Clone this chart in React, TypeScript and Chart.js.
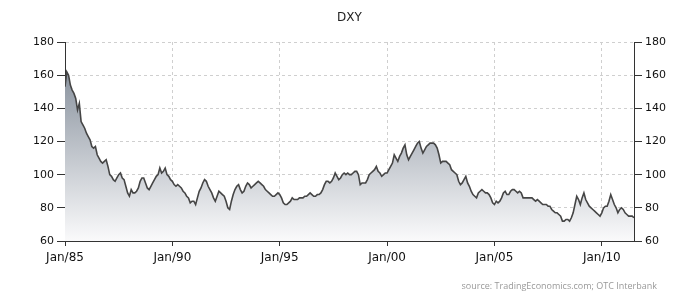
import React, { useEffect, useRef } from "react";
import { Chart, registerables } from "chart.js";

Chart.register(...registerables);

const START_YEAR = 1985;
// Monthly DXY values, Jan 1985 .. Jul 2011
const dxy1985_1989 = [
  153, 162, 160, 154, 151, 149, 146, 139, 143, 132, 130, 128,
  125, 123, 121, 117, 116, 117, 112, 110, 108, 107, 108, 109,
  105, 100, 99, 97, 96, 98, 100, 101, 98, 97, 93, 89,
  87, 91, 89, 89, 90, 92, 96, 98, 98, 95, 92, 91,
  93, 95, 97, 99, 100, 104, 101, 102, 104, 100, 99, 97,
];
const dxy1990_1994 = [
  96, 94, 93, 94, 93, 92, 90, 89, 87, 86, 83, 84,
  84, 82, 86, 90, 92, 95, 97, 96, 93, 91, 89, 86,
  84, 87, 90, 89, 88, 87, 84, 80, 79, 84, 88, 91,
  93, 94, 91, 89, 90, 93, 95, 94, 92, 93, 94, 95,
  96, 95, 94, 93, 91, 90, 89, 88, 87, 87, 88, 89,
];
const dxy1995_1999 = [
  88, 86, 83, 82, 82, 83, 84, 86, 85, 85, 85, 86,
  86, 86, 87, 87, 88, 89, 88, 87, 87, 88, 88, 89,
  91, 94, 96, 96, 95, 96, 98, 101, 99, 97, 98, 100,
  101, 100, 101, 100, 100, 101, 102, 102, 100, 94, 95, 95,
  95, 97, 100, 101, 102, 103, 105, 102, 101, 99, 100, 101,
];
const dxy2000_2004 = [
  101, 103, 105, 107, 112, 110, 108, 111, 113, 116, 118, 112,
  109, 111, 113, 115, 117, 119, 120, 116, 113, 115, 117, 118,
  119, 119, 119, 118, 116, 112, 107, 108, 108, 108, 107, 106,
  103, 102, 101, 100, 96, 94, 95, 97, 99, 95, 93, 90,
  88, 87, 86, 89, 90, 91, 90, 89, 89, 88, 86, 83,
];
const dxy2005_2011 = [
  82, 84, 83, 84, 86, 89, 90, 88, 88, 90, 91, 91,
  90, 89, 90, 89, 86, 86, 86, 86, 86, 86, 85, 84,
  85, 84, 83, 82, 82, 82, 81, 81, 79, 78, 77, 77,
  76, 75, 72, 72, 73, 73, 72, 74, 77, 82, 87, 85,
  82, 86, 89, 85, 83, 81, 80, 79, 78, 77, 76, 75,
  77, 80, 81, 81, 84, 88, 85, 82, 80, 77, 79, 80,
  79, 77, 76, 75, 75, 75, 74,
];
const dxyValues = [
  ...dxy1985_1989,
  ...dxy1990_1994,
  ...dxy1995_1999,
  ...dxy2000_2004,
  ...dxy2005_2011,
];
const xTickYears = [1985, 1990, 1995, 2000, 2005, 2010];
const yTickValues = [60, 80, 100, 120, 140, 160, 180];
const TITLE = "DXY";
const SOURCE = "source: TradingEconomics.com; OTC Interbank";

const FONT = "'DejaVu Sans', sans-serif";

const textPlugin = {
  id: "textPlugin",
  afterDraw(chart: any) {
    const { ctx } = chart;
    const area = chart.chartArea;
    ctx.save();
    ctx.fillStyle = "#222";
    ctx.font = `12px ${FONT}`;
    ctx.textAlign = "center";
    ctx.textBaseline = "middle";
    ctx.fillText(TITLE, (area.left + area.right) / 2, 18);
    ctx.fillStyle = "#999";
    ctx.font = "9px 'Open Sans', sans-serif";
    ctx.textAlign = "right";
    ctx.textBaseline = "alphabetic";
    ctx.fillText(SOURCE, 657, 289);
    ctx.restore();
  },
};

export default function App() {
  const ref = useRef<HTMLCanvasElement>(null);
  useEffect(() => {
    document.body.style.margin = "0";
    const canvas = ref.current;
    if (!canvas) return;
    const points = dxyValues.map((v, i) => ({ x: START_YEAR + i / 12, y: v }));
    const xMax = START_YEAR + (dxyValues.length - 1) / 12;
    const yScaleCommon = {
      min: 60,
      max: 180,
      afterBuildTicks: (s: any) => {
        s.ticks = yTickValues.map((v) => ({ value: v }));
      },
      ticks: {
        color: "#111",
        font: { family: FONT, size: 11 },
        padding: 3,
      },
    };
    const chart = new Chart(canvas, {
      type: "line",
      data: {
        datasets: [
          {
            data: points,
            borderColor: "#454545",
            borderWidth: 1.6,
            pointRadius: 0,
            tension: 0,
            fill: "start",
            backgroundColor: (c: any) => {
              const area = c.chart.chartArea;
              if (!area) return "rgba(180,186,194,1)";
              const g = c.chart.ctx.createLinearGradient(0, area.top, 0, area.bottom);
              g.addColorStop(0, "rgb(118,128,141)");
              g.addColorStop(0.45, "rgb(178,184,192)");
              g.addColorStop(1, "rgb(250,250,251)");
              return g;
            },
          },
        ],
      },
      options: {
        responsive: false,
        animation: false,
        layout: { padding: { top: 42, left: 0, right: 0, bottom: 0 } },
        plugins: {
          legend: { display: false },
          tooltip: { enabled: false },
          title: { display: false },
        },
        scales: {
          x: {
            type: "linear",
            min: START_YEAR,
            max: xMax,
            afterBuildTicks: (s: any) => {
              s.ticks = xTickYears.map((v) => ({ value: v }));
            },
            afterFit: (s: any) => {
              s.height = 59;
            },
            ticks: {
              color: "#111",
              font: { family: FONT, size: 12 },
              padding: 5,
              maxRotation: 0,
              autoSkip: false,
              callback: (v: any) => "Jan/" + String(v).slice(2),
            },
            grid: {
              color: "#cfcfcf",
              lineWidth: 1,
              tickColor: "#333",
              tickLength: 5,
              tickBorderDash: [1, 0],
            },
            border: { color: "#333", width: 1, dash: [3, 3] },
          },
          y: {
            ...yScaleCommon,
            position: "left",
            afterFit: (s: any) => {
              s.width = 65;
            },
            grid: {
              color: "#cfcfcf",
              lineWidth: 1,
              tickColor: "#333",
              tickLength: 8,
              tickBorderDash: [1, 0],
            },
            border: { color: "#333", width: 1, dash: [3, 3] },
          },
          y1: {
            ...yScaleCommon,
            position: "right",
            afterFit: (s: any) => {
              s.width = 66;
            },
            grid: {
              drawOnChartArea: false,
              tickColor: "#333",
              tickLength: 8,
              tickBorderDash: [1, 0],
            },
            border: { color: "#333", width: 1 },
          },
        },
      } as any,
      plugins: [textPlugin],
    });
    return () => chart.destroy();
  }, []);
  return (
    <div style={{ width: 700, height: 300, background: "#fff" }}>
      <canvas ref={ref} width={700} height={300} />
    </div>
  );
}
